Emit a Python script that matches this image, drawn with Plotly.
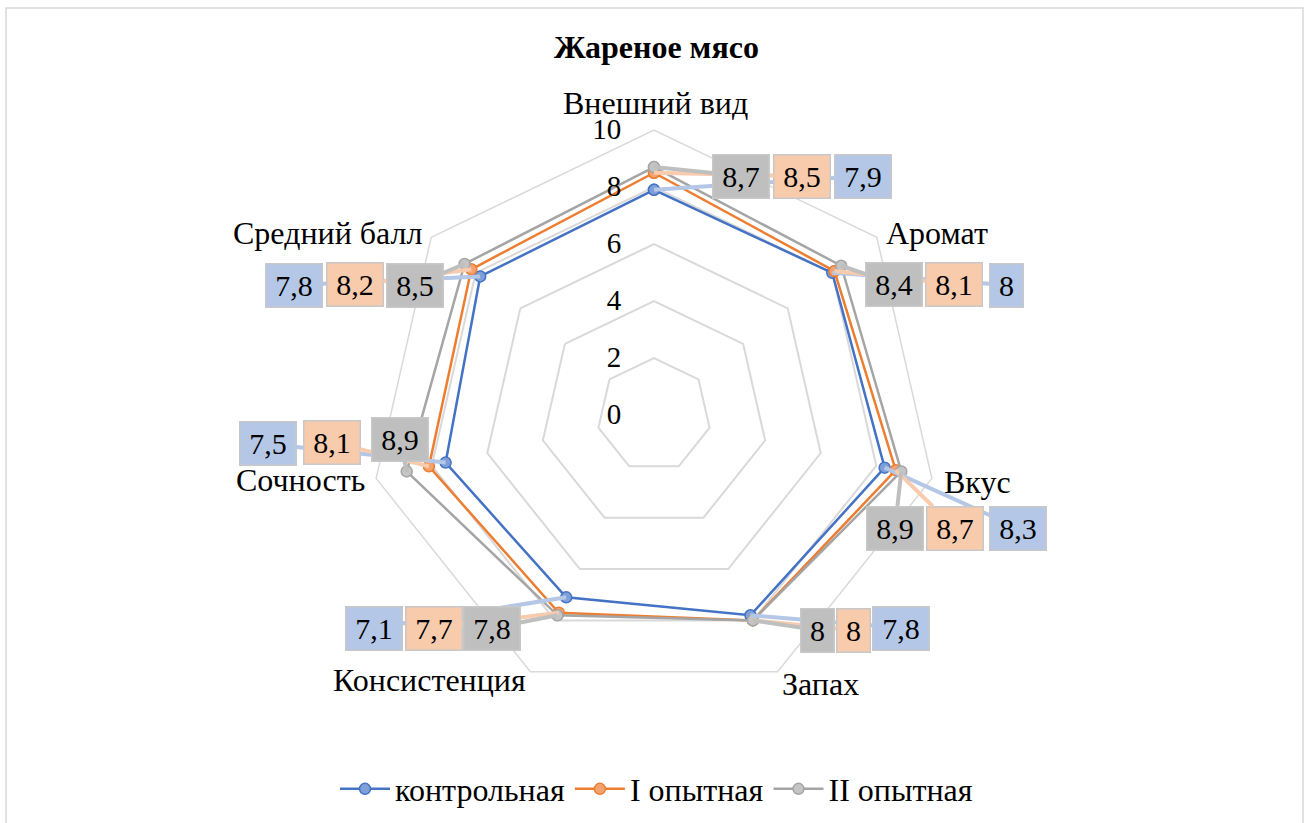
import math
import plotly.graph_objects as go

# Sensory scores of fried meat, three sample groups
categories = ["Внешний вид", "Аромат", "Вкус", "Запах", "Консистенция", "Сочность", "Средний балл"]
control = [7.9, 8.0, 8.3, 7.8, 7.1, 7.5, 7.8]
trial_1 = [8.5, 8.1, 8.7, 8.0, 7.7, 8.1, 8.2]
trial_2 = [8.7, 8.4, 8.9, 8.0, 7.8, 8.9, 8.5]
series_names = ["контрольная", "I опытная", "II опытная"]
radial_ticks = [0, 2, 4, 6, 8, 10]

W, H = 1313, 823
FONT = "Liberation Serif, Times New Roman, serif"

# polar area geometry (pixels)
CX, CY, R = 654, 415, 285
R_MAX = 10

line_colors = ["#4472C4", "#ED7D31", "#A5A5A5"]
marker_fills = ["#7f9fd8", "#f4a26f", "#c4c4c4"]
box_fills = ["#b4c7e7", "#f8cbad", "#bfbfbf"]

# centres of the category captions (pixels)
category_label_pos = [(655, 103), (937, 233), (977, 482), (820, 684),
                      (429, 680), (300, 480), (328, 233)]

# centres of the value boxes, per category: (control, I, II)
label_boxes = [
    [(863, 176), (802, 176), (741, 176)],
    [(1006, 285), (954, 284), (894, 284)],
    [(1018, 528), (955, 528), (895, 528)],
    [(901, 628), (853, 630), (817, 630)],
    [(374, 628), (434, 628), (492, 628)],
    [(268, 444), (332, 442), (400, 439)],
    [(294, 285), (355, 285), (415, 285)],
]


def fmt(v):
    s = f"{v:.1f}".rstrip("0").rstrip(".")
    return s.replace(".", ",")


def point_px(k, v):
    ang = math.radians(360 * k / len(categories))
    return CX + R * v / R_MAX * math.sin(ang), CY - R * v / R_MAX * math.cos(ang)


fig = go.Figure()
all_series = [control, trial_1, trial_2]
for name, vals, lc, mf in zip(series_names, all_series, line_colors, marker_fills):
    fig.add_trace(go.Scatterpolar(
        r=vals + vals[:1],
        theta=categories + categories[:1],
        mode="lines+markers",
        name=name,
        line=dict(color=lc, width=2.5),
        marker=dict(symbol="circle", size=11, color=mf, line=dict(color=lc, width=1.5)),
    ))

annotations = []
# category captions
for name, (lx, ly) in zip(categories, category_label_pos):
    annotations.append(dict(
        x=lx / W, y=1 - ly / H, xref="paper", yref="paper",
        xanchor="center", yanchor="middle", showarrow=False, text=name,
        font=dict(family=FONT, size=32, color="#000000"),
    ))

# value boxes with callout lines
for si, vals in enumerate(all_series):
    for k, v in enumerate(vals):
        px, py = point_px(k, v)
        bx, by = label_boxes[k][si]
        txt = fmt(v)
        annotations.append(dict(
            x=px / W, y=1 - py / H, xref="paper", yref="paper",
            ax=bx - px, ay=by - py, axref="pixel", ayref="pixel",
            text=txt, showarrow=True, arrowhead=0, arrowwidth=4,
            arrowcolor=box_fills[si], standoff=0, startstandoff=0,
            font=dict(family=FONT, size=30, color="#000000"),
            bgcolor=box_fills[si], bordercolor="#c8c8c8", borderwidth=1.5,
            width=32 if len(txt) == 1 else 55, height=42, borderpad=0,
            align="center", valign="middle",
        ))

fig.update_layout(
    width=W, height=H,
    margin=dict(l=0, r=0, t=0, b=0),
    paper_bgcolor="white", plot_bgcolor="white",
    font=dict(family=FONT, color="#000000"),
    title=dict(text="<b>Жареное мясо</b>", x=0.5, xanchor="center",
               y=1 - 47 / H, yanchor="middle",
               font=dict(family=FONT, size=32, color="#000000")),
    polar=dict(
        domain=dict(x=[(CX - R) / W, (CX + R) / W], y=[(H - CY - R) / H, (H - CY + R) / H]),
        bgcolor="white",
        gridshape="linear",
        angularaxis=dict(direction="clockwise", rotation=90, showgrid=False,
                         showline=True, linecolor="#d9d9d9", linewidth=1.5, ticks="",
                         showticklabels=False),
        radialaxis=dict(range=[0, R_MAX], tickvals=radial_ticks, angle=90, tickangle=90,
                        side="counterclockwise", showline=False, ticks="outside",
                        ticklen=22, tickcolor="rgba(0,0,0,0)",
                        gridcolor="#d9d9d9", gridwidth=1.5,
                        tickfont=dict(family=FONT, size=29, color="#000000")),
    ),
    legend=dict(orientation="h", x=0.5, xanchor="center", y=1 - 789 / H, yanchor="middle",
                font=dict(family=FONT, size=32, color="#000000"),
                itemwidth=50, traceorder="normal"),
    annotations=annotations,
    shapes=[dict(type="rect", xref="paper", yref="paper",
                 x0=6 / W, x1=1303 / W, y0=-0.05, y1=1 - 8 / H,
                 line=dict(color="#d9d9d9", width=1.5), fillcolor="rgba(0,0,0,0)", layer="below")],
)

fig.write_html("out.html")
